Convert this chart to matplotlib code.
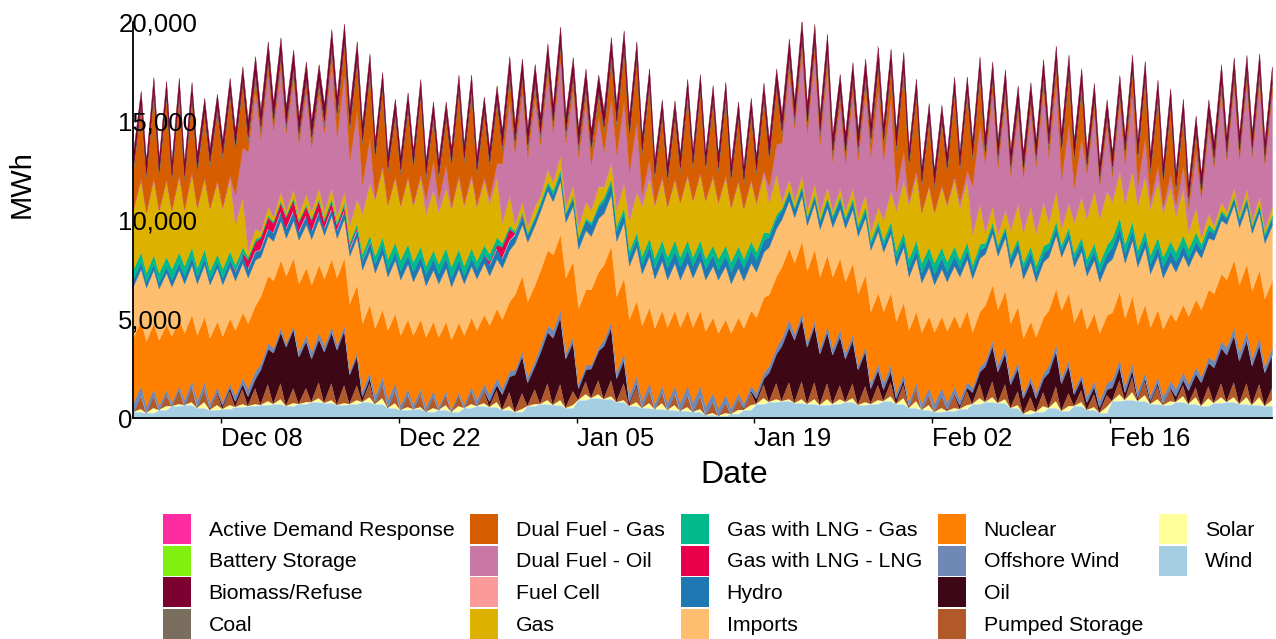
import numpy as np
import pandas as pd
import matplotlib
matplotlib.use("Agg")
import matplotlib.pyplot as plt
from matplotlib.patches import Rectangle
from matplotlib.ticker import FuncFormatter

plt.rcParams['font.family'] = ['Liberation Sans', 'DejaVu Sans']

# one column per day, Dec 1 2024 .. Feb 28 2025
days = pd.date_range('2024-12-01', '2025-02-28', freq='D')

# daily values (MWh) for the slow-moving sources
wind = [300, 250, 400, 600, 650, 500, 400, 450, 550, 600,
        650, 700, 600, 700, 800, 750, 650, 700, 800, 700,
        500, 400, 450, 300, 400, 300, 500, 600, 550, 400,
        300, 600, 700, 650, 500, 900, 1000, 950, 800, 600,
        500, 450, 400, 350, 300, 150, 100, 200, 400, 700,
        800, 850, 750, 700, 650, 700, 800, 650, 700, 850,
        700, 500, 400, 300, 350, 450, 700, 800, 750, 500,
        200, 300, 500, 350, 600, 400, 250, 850, 900, 850,
        700, 650, 800, 700, 600, 750, 800, 700, 650, 600]
offshore = [500, 350, 250, 200, 300, 350, 250, 200, 300, 400,
            300, 250, 200, 300, 350, 300, 250, 200, 300, 350,
            400, 300, 250, 300, 200, 150, 200, 300, 350, 300,
            250, 300, 350, 400, 300, 250, 200, 300, 350, 400,
            350, 300, 400, 450, 500, 450, 400, 300, 250, 300,
            350, 400, 300, 250, 300, 350, 300, 250, 300, 350,
            300, 250, 350, 400, 350, 300, 250, 300, 350, 300,
            250, 300, 350, 300, 250, 300, 350, 400, 350, 300,
            300, 350, 400, 350, 300, 350, 400, 450, 400, 350]
oil = [0, 0, 0, 0, 0, 50, 100, 200, 300, 500,
       1800, 2600, 3000, 2400, 2200, 2600, 2800, 1500, 300, 100,
       50, 0, 0, 0, 0, 0, 0, 50, 300, 800,
       1900, 1200, 2600, 3400, 2500, 600, 1500, 2700, 1200, 200,
       50, 0, 0, 0, 0, 0, 0, 0, 100, 300,
       1500, 2800, 3200, 2900, 2600, 2500, 2200, 1800, 800, 600,
       300, 100, 0, 50, 100, 200, 600, 1800, 1600, 1200,
       800, 700, 1800, 1400, 600, 400, 300, 700, 400, 200,
       200, 100, 300, 700, 1200, 1800, 2400, 2200, 2000, 1700]
nuclear = [3300, 3300, 3300, 3350, 3350, 3300, 3300, 3300, 3300, 3300,
           3400, 3400, 3400, 3400, 3400, 3400, 3400, 3400, 3400, 3400,
           3500, 3500, 3500, 3500, 3500, 3500, 3500, 3500, 3500, 3500,
           3800, 3800, 3800, 3800, 3800, 3800, 3800, 3800, 3800, 3800,
           3800, 3800, 3800, 3800, 3800, 3800, 3800, 3800, 3800, 3800,
           3600, 3600, 3600, 3600, 3600, 3600, 3600, 3600, 3600, 3600,
           3600, 3600, 3600, 3600, 3600, 3600, 2800, 2800, 2800, 2800,
           2800, 2800, 2800, 3400, 3400, 3400, 3400, 3400, 3400, 3400,
           3400, 3400, 3400, 3400, 3400, 3400, 3400, 3400, 3400, 3400]
imports = [2600, 2700, 2600, 2500, 2500, 2600, 2700, 2600, 2500, 2300,
           2000, 2000, 1900, 2200, 2300, 2200, 2000, 2400, 2700, 2800,
           2700, 2800, 2700, 2600, 2700, 2700, 2600, 2600, 2500, 2600,
           2600, 3000, 3000, 2700, 2800, 3000, 2700, 2600, 2800, 2700,
           2600, 2500, 2400, 2400, 2500, 2600, 2700, 2500, 2400, 2300,
           2400, 2400, 2300, 2300, 2400, 2500, 2700, 2900, 3100, 3000,
           2800, 2700, 2500, 2400, 2500, 2600, 2700, 2600, 2700, 2800,
           3000, 2800, 2700, 2700, 2800, 2700, 2600, 2700, 2800, 2900,
           2700, 2600, 2500, 2500, 2600, 2700, 2800, 2900, 2900, 2800]
hydro = [350, 300, 300, 350, 400, 350, 300, 350, 400, 400,
         350, 400, 450, 400, 350, 300, 350, 300, 400, 450,
         400, 450, 500, 550, 500, 450, 400, 450, 500, 450,
         400, 350, 300, 350, 400, 500, 550, 600, 500, 450,
         500, 550, 600, 650, 600, 550, 500, 600, 650, 600,
         500, 450, 400, 350, 400, 450, 400, 350, 300, 350,
         400, 450, 500, 550, 500, 450, 400, 350, 400, 450,
         500, 450, 400, 350, 400, 450, 500, 550, 500, 450,
         500, 550, 500, 450, 400, 350, 300, 350, 300, 350]
lng_lng = [0, 0, 0, 0, 0, 0, 0, 0, 100, 500,
           600, 500, 600, 500, 600, 400, 300, 200, 100, 0,
           0, 0, 0, 0, 0, 0, 0, 0, 200, 600,
           100, 0, 0, 0, 0, 0, 0, 0, 0, 0,
           0, 0, 0, 0, 0, 0, 0, 0, 0, 0,
           0, 0, 0, 0, 0, 0, 0, 0, 0, 0,
           0, 0, 0, 0, 0, 0, 0, 0, 0, 0,
           0, 0, 0, 0, 0, 0, 0, 0, 0, 0,
           0, 0, 0, 0, 0, 0, 0, 0, 0, 0]
lng_gas = [500, 450, 500, 550, 500, 450, 400, 450, 300, 150,
           100, 100, 100, 100, 100, 150, 150, 200, 300, 400,
           500, 550, 500, 450, 500, 550, 500, 450, 400, 200,
           100, 100, 150, 200, 100, 100, 150, 200, 250, 300,
           400, 500, 550, 500, 450, 500, 550, 500, 450, 400,
           200, 100, 100, 100, 100, 150, 150, 200, 200, 250,
           350, 450, 500, 550, 500, 400, 300, 200, 150, 200,
           300, 350, 300, 250, 300, 400, 450, 500, 450, 400,
           450, 500, 500, 450, 300, 150, 100, 100, 100, 150]
fuel_cell = [20, 20, 25, 25, 20, 20, 25, 25, 20, 20,
             25, 25, 20, 20, 25, 25, 20, 20, 25, 25,
             20, 20, 25, 25, 20, 20, 25, 25, 20, 20,
             25, 25, 20, 20, 25, 25, 20, 20, 25, 25,
             20, 20, 25, 25, 20, 20, 25, 25, 20, 20,
             25, 25, 20, 20, 25, 25, 20, 20, 25, 25,
             20, 20, 25, 25, 20, 20, 25, 25, 20, 20,
             25, 25, 20, 20, 25, 25, 20, 20, 25, 25,
             20, 20, 25, 25, 20, 20, 25, 25, 20, 20]
coal = [250, 250, 250, 250, 250, 250, 250, 250, 250, 300,
        300, 300, 300, 300, 300, 300, 300, 300, 250, 250,
        250, 250, 250, 250, 250, 250, 250, 250, 250, 250,
        300, 300, 300, 300, 300, 300, 300, 300, 300, 250,
        250, 250, 250, 250, 250, 250, 250, 250, 250, 250,
        250, 300, 300, 300, 300, 300, 300, 300, 300, 250,
        250, 250, 250, 250, 250, 250, 250, 300, 300, 250,
        250, 250, 300, 300, 250, 250, 250, 250, 250, 250,
        250, 250, 250, 250, 250, 300, 300, 300, 300, 300]
biomass = [650, 650, 650, 650, 650, 650, 650, 650, 700, 800,
           800, 800, 800, 800, 800, 800, 800, 800, 750, 650,
           650, 650, 650, 650, 650, 650, 650, 650, 650, 750,
           800, 800, 800, 800, 800, 800, 800, 800, 800, 750,
           650, 650, 650, 650, 650, 650, 650, 650, 650, 650,
           750, 800, 800, 800, 800, 800, 800, 800, 800, 750,
           750, 650, 650, 650, 650, 650, 700, 750, 750, 750,
           750, 750, 750, 750, 750, 700, 700, 700, 700, 700,
           700, 700, 700, 700, 750, 750, 750, 750, 750, 750]

# peaking sources: overnight low and evening peak for each day
gas_lo = [3000, 3000, 3100, 2900, 2800, 3000, 3100, 3000, 2000, 300,
          200, 200, 200, 300, 300, 300, 300, 800, 2000, 2800,
          2700, 2700, 2800, 2600, 2600, 2900, 3000, 2700, 2500, 1000,
          300, 300, 300, 400, 300, 500, 600, 500, 800, 1500,
          2500, 2600, 2500, 2700, 2800, 2900, 2800, 2700, 2500, 2400,
          1500, 300, 300, 300, 300, 200, 300, 400, 400, 1000,
          2000, 2700, 2500, 2500, 2800, 2600, 1500, 500, 500, 1200,
          1500, 1600, 1000, 800, 1500, 2000, 2200, 1800, 2000, 2200,
          2300, 2200, 1800, 800, 300, 200, 200, 200, 200, 200]
gas_hi = [3600, 3800, 3800, 3800, 3700, 3500, 3600, 3600, 2500, 500,
          400, 400, 400, 500, 500, 500, 500, 1200, 2600, 3400,
          3200, 3300, 3400, 3000, 3000, 3500, 3500, 3200, 3000, 1500,
          500, 500, 600, 700, 500, 800, 900, 800, 1200, 2000,
          3000, 3000, 3000, 3200, 3300, 3400, 3400, 3200, 3000, 2900,
          2000, 500, 500, 500, 500, 400, 500, 600, 700, 1500,
          2600, 3200, 3000, 3000, 3300, 3100, 2000, 800, 800, 1700,
          2000, 2200, 1500, 1200, 2000, 2600, 2700, 2300, 2500, 2700,
          2800, 2700, 2300, 1200, 500, 400, 400, 400, 400, 400]
dfo_lo = [50, 50, 50, 50, 50, 50, 50, 100, 1500, 5000,
          4700, 4400, 3950, 3600, 3300, 4000, 4000, 3300, 1500, 100,
          50, 50, 100, 700, 600, 100, 100, 100, 300, 3000,
          3600, 3500, 2600, 2500, 3200, 3500, 2300, 1800, 2800, 2500,
          600, 100, 50, 50, 50, 50, 50, 50, 50, 100,
          800, 3000, 3700, 3900, 3500, 2500, 2450, 2900, 3800, 3000,
          1000, 200, 50, 50, 100, 300, 2500, 3500, 3400, 2800,
          2800, 3400, 3300, 2500, 1800, 2300, 1700, 1300, 2000, 1000,
          400, 300, 500, 1200, 2000, 3000, 2600, 2800, 3250, 3250]
dfo_hi = [100, 100, 100, 100, 100, 100, 100, 200, 2500, 7000,
          6800, 6300, 5600, 5230, 4800, 6400, 6000, 4500, 2300, 200,
          100, 100, 200, 1500, 1200, 200, 200, 200, 700, 4800,
          5600, 5500, 4800, 4900, 4850, 5100, 3500, 3300, 4200, 3600,
          1000, 200, 100, 100, 100, 100, 100, 100, 100, 200,
          1500, 5500, 6300, 6500, 6100, 4250, 4800, 5200, 6000, 4700,
          1500, 300, 100, 100, 200, 500, 4000, 5800, 5600, 4600,
          4800, 5700, 5500, 4000, 3000, 4000, 3300, 3500, 4000, 2000,
          800, 700, 1200, 2800, 4400, 5600, 5200, 5400, 5800, 5700]
dfg_lo = [2000, 1700, 1700, 1500, 1450, 1750, 2100, 2450, 2300, 450,
          300, 250, 200, 200, 200, 300, 900, 1500, 2000, 2000,
          1600, 1550, 1800, 1100, 1100, 2050, 2100, 1550, 1600, 650,
          350, 350, 300, 300, 300, 350, 600, 950, 1400, 1750,
          2000, 1300, 1200, 1500, 1600, 1500, 1500, 1250, 1200, 1400,
          1350, 300, 250, 300, 350, 250, 300, 350, 600, 800,
          2050, 1750, 1300, 1200, 1600, 1600, 1300, 300, 300, 250,
          250, 300, 400, 1300, 1350, 200, 200, 250, 450, 1350,
          1400, 1200, 750, 300, 200, 150, 150, 150, 150, 150]
dfg_hi = [3500, 4150, 4050, 3950, 3600, 3100, 3450, 4000, 3140, 600,
          440, 400, 330, 350, 340, 510, 1400, 2350, 3230, 3800,
          3000, 3330, 3900, 2060, 2260, 4170, 4120, 3160, 3020, 1200,
          530, 550, 450, 500, 500, 520, 1020, 1920, 2400, 3000,
          3650, 2960, 3010, 3900, 4050, 3640, 3800, 3060, 3200, 3520,
          2820, 490, 450, 480, 520, 400, 460, 530, 970, 1480,
          3970, 3720, 3220, 3140, 4120, 3830, 2480, 430, 440, 370,
          440, 500, 780, 2430, 2490, 490, 360, 400, 930, 2860,
          3370, 3330, 2400, 900, 370, 290, 330, 310, 350, 340]

# sources that only show up at the daily peak
pumped_pk = [700, 650, 600, 750, 800, 650, 600, 700, 750, 800,
             850, 800, 750, 700, 800, 850, 900, 750, 700, 650,
             600, 650, 700, 600, 550, 600, 700, 650, 600, 700,
             800, 750, 850, 800, 700, 650, 700, 800, 850, 750,
             650, 600, 600, 650, 700, 600, 550, 600, 650, 700,
             800, 850, 900, 850, 800, 700, 750, 800, 750, 700,
             650, 600, 550, 600, 650, 700, 750, 800, 750, 700,
             650, 700, 750, 650, 600, 650, 600, 700, 750, 700,
             650, 600, 550, 500, 600, 700, 750, 700, 650, 600]
solar_pk = [150, 250, 200, 100, 150, 300, 250, 200, 150, 100,
            200, 250, 150, 100, 200, 150, 100, 200, 250, 300,
            250, 150, 100, 200, 250, 300, 200, 150, 250, 200,
            150, 100, 200, 250, 150, 300, 200, 150, 100, 200,
            250, 300, 250, 200, 150, 100, 150, 200, 250, 300,
            150, 100, 200, 250, 300, 250, 200, 150, 200, 250,
            300, 350, 250, 200, 150, 200, 300, 250, 200, 150,
            200, 300, 350, 250, 200, 150, 300, 350, 400, 300,
            250, 200, 300, 350, 400, 300, 250, 350, 400, 300]
battery_pk = [20, 30, 25, 35, 20, 15, 25, 30, 35, 40,
              30, 25, 35, 40, 30, 25, 35, 45, 30, 20,
              25, 30, 20, 25, 35, 30, 25, 20, 30, 35,
              40, 30, 35, 45, 40, 30, 35, 40, 30, 25,
              20, 30, 35, 25, 20, 30, 25, 20, 30, 35,
              40, 45, 50, 40, 35, 30, 40, 45, 35, 30,
              25, 20, 30, 35, 40, 35, 45, 40, 35, 30,
              35, 40, 45, 35, 30, 25, 35, 40, 45, 35,
              30, 25, 20, 30, 40, 45, 50, 40, 35, 30]
adr_pk = [5, 5, 5, 5, 5, 5, 5, 5, 5, 10,
          10, 10, 15, 10, 10, 10, 15, 10, 5, 5,
          5, 5, 5, 5, 5, 5, 5, 5, 5, 10,
          10, 10, 15, 15, 10, 10, 10, 15, 10, 5,
          5, 5, 5, 5, 5, 5, 5, 5, 5, 5,
          10, 15, 15, 15, 10, 10, 10, 15, 120, 10,
          5, 5, 5, 5, 5, 5, 10, 10, 10, 5,
          5, 10, 10, 10, 5, 5, 5, 10, 10, 5,
          5, 5, 5, 5, 5, 10, 10, 10, 10, 5]

# two readings per day: overnight trough (03:00) and evening peak (17:00)
times = np.column_stack([days + pd.Timedelta(hours=3),
                         days + pd.Timedelta(hours=17)]).ravel()


def daily(v):
    return np.repeat(np.asarray(v, float), 2)


def lohi(lo, hi):
    return np.column_stack([lo, hi]).astype(float).ravel()


def peak_only(hi):
    return np.column_stack([np.zeros(len(hi)), hi]).astype(float).ravel()


# bottom to top
stack = [
    ('Wind', daily(wind), '#A6CEE3'),
    ('Solar', peak_only(solar_pk), '#FFFF99'),
    ('Pumped Storage', peak_only(pumped_pk), '#B15928'),
    ('Oil', daily(oil), '#3D0716'),
    ('Offshore Wind', daily(offshore), '#6F88B6'),
    ('Nuclear', daily(nuclear), '#FF7F00'),
    ('Imports', daily(imports), '#FDBF6F'),
    ('Hydro', daily(hydro), '#1F78B4'),
    ('Gas with LNG - LNG', daily(lng_lng), '#E8004B'),
    ('Gas with LNG - Gas', daily(lng_gas), '#00BA8C'),
    ('Gas', lohi(gas_lo, gas_hi), '#DDB100'),
    ('Fuel Cell', daily(fuel_cell), '#FB9A99'),
    ('Dual Fuel - Oil', lohi(dfo_lo, dfo_hi), '#C978A5'),
    ('Dual Fuel - Gas', lohi(dfg_lo, dfg_hi), '#D65E00'),
    ('Coal', daily(coal), '#796E5E'),
    ('Biomass/Refuse', daily(biomass), '#7C0030'),
    ('Battery Storage', peak_only(battery_pk), '#7FF00F'),
    ('Active Demand Response', peak_only(adr_pk), '#FF2BA0'),
]
labels = [s[0] for s in stack]
colors = [s[2] for s in stack]
# layers that are often empty get no outline, so they don't leave stray lines
no_edge = {'Solar', 'Pumped Storage', 'Oil', 'Gas with LNG - LNG', 'Fuel Cell',
           'Battery Storage', 'Active Demand Response'}

fig = plt.figure(figsize=(12.76, 6.39), dpi=100)
ax = fig.add_axes([133.3 / 1276, 1 - 418 / 639, 1138.6 / 1276, 396 / 639])

polys = ax.stackplot(times, *[s[1] for s in stack], colors=colors, linewidth=0)
for p, name, c in zip(polys, labels, colors):
    if name not in no_edge:
        p.set_edgecolor(c)
        p.set_linewidth(0.3)

ax.set_xlim(times[0], times[-1])
ax.set_ylim(0, 20000)
ax.spines['top'].set_visible(False)
ax.spines['right'].set_visible(False)
for s in ['left', 'bottom']:
    ax.spines[s].set_linewidth(1.3)
    ax.spines[s].set_color('black')

ax.set_yticks([0, 5000, 10000, 15000, 20000])
ax.yaxis.set_major_formatter(FuncFormatter(lambda v, p: f'{int(v):,}'))
ax.tick_params(axis='y', length=0, pad=10.8, labelsize=18.5)
for lbl in ax.get_yticklabels():
    lbl.set_horizontalalignment('left')

xt = pd.to_datetime(['2024-12-08', '2024-12-22', '2025-01-05',
                     '2025-01-19', '2025-02-02', '2025-02-16'])
ax.set_xticks(xt)
ax.set_xticklabels([d.strftime('%b %d') for d in xt], ha='left')
ax.tick_params(axis='x', length=3.6, width=1, pad=3, labelsize=18.5)

fig.text(734 / 1276, 1 - 483 / 639, 'Date', ha='center', va='baseline', size=23)
fig.text(22 / 1276, 1 - 184 / 639, 'MWh', ha='center', va='center',
         rotation=90, size=21)

# legend: alphabetical, filled column by column (4 rows x 5 columns)
handles = [Rectangle((0, 0), 1, 1, fc=c, ec='none') for c in colors[::-1]]
leg_labels = labels[::-1]
handles += [Rectangle((0, 0), 1, 1, fc='none', ec='none')] * 2
leg_labels += ['', '']
fig.legend(handles, leg_labels, ncol=5, loc='upper left',
           bbox_to_anchor=(163 / 1276, 1 - 514 / 639), frameon=False,
           fontsize=15.3, handlelength=1.3, handleheight=1.8,
           handletextpad=0.85, columnspacing=0.75, labelspacing=0.07,
           borderpad=0, borderaxespad=0)

fig.savefig('out.png', dpi=100)
